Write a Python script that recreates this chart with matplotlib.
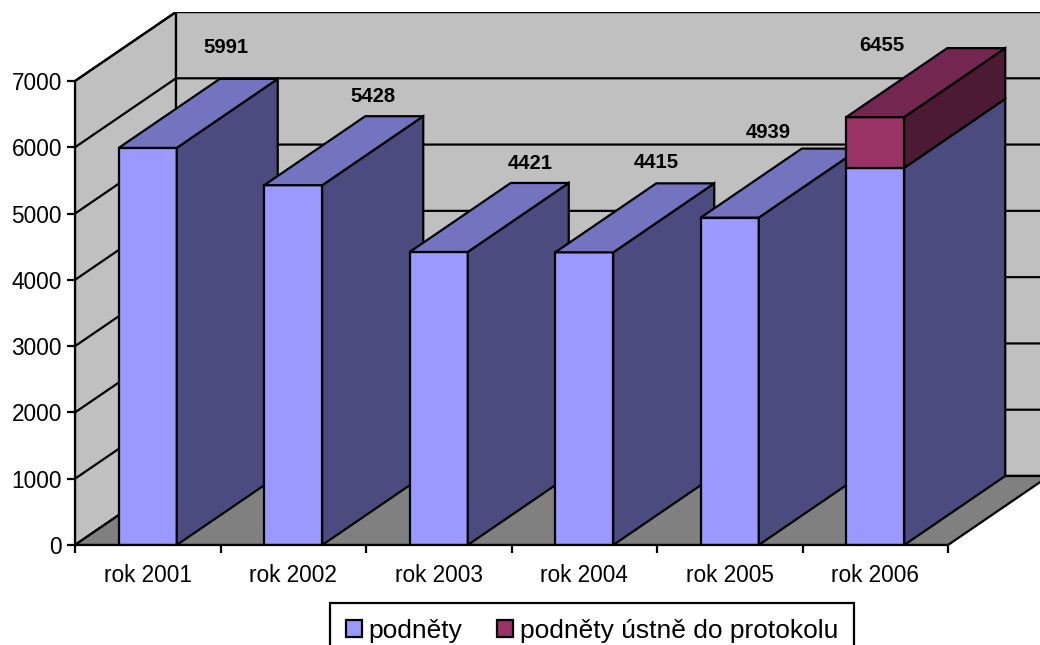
import matplotlib
matplotlib.use('Agg')
import matplotlib.pyplot as plt
from matplotlib.patches import Polygon, Patch

plt.rcParams['font.family'] = ['Liberation Sans', 'DejaVu Sans']

# ---------------- data ----------------
categories = ['rok 2001', 'rok 2002', 'rok 2003', 'rok 2004', 'rok 2005', 'rok 2006']
podnety = [5991, 5428, 4421, 4415, 4939, 5690]
podnety_ustne = [0, 0, 0, 0, 0, 765]
label_values = [5991, 5428, 4421, 4415, 4939, 6455]
series_names = ['podněty', 'podněty ústně do protokolu']
yticks = [0, 1000, 2000, 3000, 4000, 5000, 6000, 7000]

# ---------------- layout / style ----------------
W, H = 1040, 645
n = len(categories)
cat_px = 145.5
unit_px = 464 / 7000
depth_dx_px, depth_dy_px = 101, 69
DX = depth_dx_px / cat_px
DY = depth_dy_px / unit_px
ymax = yticks[-1]
bar_w = 58 / cat_px
LW = 1.6

front_c = ['#9999FF', '#993366']
top_c = ['#7373BF', '#732650']
side_c = ['#4B4B7F', '#4D1A33']
wall_c = '#C0C0C0'
floor_c = '#808080'
# label nudges (pixels) relative to back-top-centre of each bar
label_nudge = [(-23, 31), (-21, 20), (-9, 19), (-29, 21), (-62, 16), (-94, 3)]

fig = plt.figure(figsize=(W / 100, H / 100), dpi=100)
ax_w_px = n * cat_px + depth_dx_px
ax_h_px = 464 + depth_dy_px
ax = fig.add_axes([75 / W, 100 / H, ax_w_px / W, ax_h_px / H])
ax.set_xlim(0, n + DX)
ax.set_ylim(0, ymax + DY)


def poly(pts, fc, z):
    ax.add_patch(Polygon(pts, closed=True, facecolor=fc, edgecolor='black',
                         linewidth=LW, joinstyle='miter', zorder=z))


# walls
poly([(0, 0), (0, ymax), (DX, ymax + DY), (DX, DY)], wall_c, 1)
poly([(DX, DY), (DX, ymax + DY), (n + DX, ymax + DY), (n + DX, DY)], wall_c, 1)
for t in yticks:
    ax.plot([0, DX, n + DX], [t, t + DY, t + DY], color='black', lw=LW, zorder=1.5,
            solid_joinstyle='miter')
# floor
poly([(0, 0), (n, 0), (n + DX, DY), (DX, DY)], floor_c, 2)

# bars
z = 3
for i in range(n):
    x0 = i + 0.5 - bar_w / 2
    x1 = x0 + bar_w
    segs = [(0, podnety[i], 0), (podnety[i], podnety[i] + podnety_ustne[i], 1)]
    segs = [s for s in segs if s[1] > s[0]]
    for k, (y0, y1, s) in enumerate(segs):
        poly([(x0, y0), (x1, y0), (x1, y1), (x0, y1)], front_c[s], z)
        poly([(x1, y0), (x1 + DX, y0 + DY), (x1 + DX, y1 + DY), (x1, y1)], side_c[s], z)
        if k == len(segs) - 1:
            poly([(x0, y1), (x1, y1), (x1 + DX, y1 + DY), (x0 + DX, y1 + DY)], top_c[s], z)
        z += 0.01
    top = podnety[i] + podnety_ustne[i]
    ax.annotate(str(label_values[i]), xy=(i + 0.5 + DX, top + DY),
                xytext=label_nudge[i], textcoords='offset pixels',
                ha='center', va='center', fontsize=14.6, fontweight='bold', zorder=10)

# axes
for s in ['top', 'right']:
    ax.spines[s].set_visible(False)
ax.spines['left'].set_bounds(0, ymax)
ax.spines['bottom'].set_bounds(0, n)
for s in ['left', 'bottom']:
    ax.spines[s].set_linewidth(LW)
    ax.spines[s].set_zorder(20)
ax.set_yticks(yticks)
ax.set_yticklabels([str(t) for t in yticks])
ax.set_xticks(range(n + 1))
ax.set_xticklabels([''] * (n + 1))
ax.set_xticks([i + 0.5 for i in range(n)], minor=True)
ax.set_xticklabels(categories, minor=True)
ax.tick_params(axis='y', direction='out', length=5.8, width=LW, pad=3.6, labelsize=16.3)
ax.tick_params(axis='x', which='major', direction='out', length=5.8, width=LW)
ax.tick_params(axis='x', which='minor', length=0, pad=14, labelsize=16.3)

# legend
handles = [Patch(facecolor=front_c[0], edgecolor='black', linewidth=LW),
           Patch(facecolor=front_c[1], edgecolor='black', linewidth=LW)]
leg = fig.legend(handles, series_names, loc='upper left',
                 bbox_to_anchor=(330 / W, 1 - 603 / H), ncol=2, fontsize=19,
                 frameon=True, fancybox=False, edgecolor='black', framealpha=1,
                 handlelength=0.6, handleheight=0.6, handletextpad=0.27,
                 columnspacing=1.3, borderpad=0.6, borderaxespad=0)
leg.get_frame().set_linewidth(LW)

fig.savefig('out.png', dpi=100, facecolor='white')
